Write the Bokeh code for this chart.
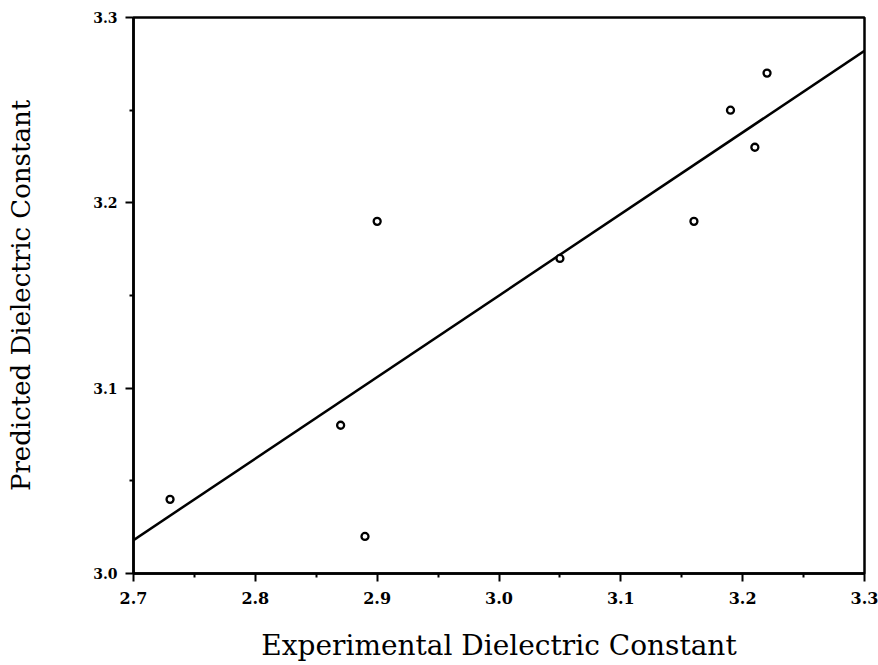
from bokeh.plotting import figure
from bokeh.models import Range1d, FixedTicker, PrintfTickFormatter
from bokeh.embed import file_html
from bokeh.resources import INLINE

# Data
exp_x = [2.73, 2.87, 2.89, 2.90, 3.05, 3.16, 3.19, 3.21, 3.22]
pred_y = [3.04, 3.08, 3.02, 3.19, 3.17, 3.19, 3.25, 3.23, 3.27]

# fitted line endpoints
fit_x = [2.70, 3.30]
fit_y = [3.018, 3.282]

x_ticks = [2.7, 2.8, 2.9, 3.0, 3.1, 3.2, 3.3]
x_minor = [2.75, 2.85, 2.95, 3.05, 3.15, 3.25]
y_ticks = [3.0, 3.1, 3.2, 3.3]
y_minor = [3.05, 3.15, 3.25]

p = figure(width=878, height=665, output_backend="svg", toolbar_location=None,
           x_range=Range1d(2.7, 3.3), y_range=Range1d(3.0, 3.3),
           min_border_left=133, min_border_right=14, min_border_top=17,
           min_border_bottom=92)

p.background_fill_color = "white"
p.border_fill_color = "white"
p.grid.visible = False
p.outline_line_color = "black"
p.outline_line_width = 2.5

p.line(fit_x, fit_y, line_color="black", line_width=2.5)
p.scatter(exp_x, pred_y, marker="circle", size=7, fill_color="white",
          line_color="black", line_width=2.3)

for ax in (p.xaxis[0], p.yaxis[0]):
    ax.axis_line_color = "black"
    ax.axis_line_width = 2.5
    ax.major_tick_line_color = "black"
    ax.major_tick_line_width = 2
    ax.minor_tick_line_color = "black"
    ax.minor_tick_line_width = 2
    ax.major_tick_out = 8
    ax.major_tick_in = 0
    ax.minor_tick_out = 4
    ax.minor_tick_in = 0
    ax.major_label_text_font = "DejaVu Serif"
    ax.major_label_text_font_style = "bold"
    ax.major_label_text_color = "black"
    ax.axis_label_text_font = "DejaVu Serif"
    ax.axis_label_text_font_style = "normal"
    ax.axis_label_text_color = "black"
    ax.formatter = PrintfTickFormatter(format="%.1f")

p.xaxis[0].major_label_text_font_size = "16px"
p.yaxis[0].major_label_text_font_size = "14px"
p.xaxis[0].axis_label_text_font_size = "28px"
p.yaxis[0].axis_label_text_font_size = "26px"

p.xaxis[0].ticker = FixedTicker(ticks=x_ticks, minor_ticks=x_minor)
p.yaxis[0].ticker = FixedTicker(ticks=y_ticks, minor_ticks=y_minor)

p.xaxis[0].axis_label = "Experimental Dielectric Constant"
p.yaxis[0].axis_label = "Predicted Dielectric Constant"
p.xaxis[0].major_label_standoff = 10
p.yaxis[0].major_label_standoff = 8
p.xaxis[0].axis_label_standoff = 22
p.yaxis[0].axis_label_standoff = 54

open("out.html", "w").write(file_html(p, INLINE))
